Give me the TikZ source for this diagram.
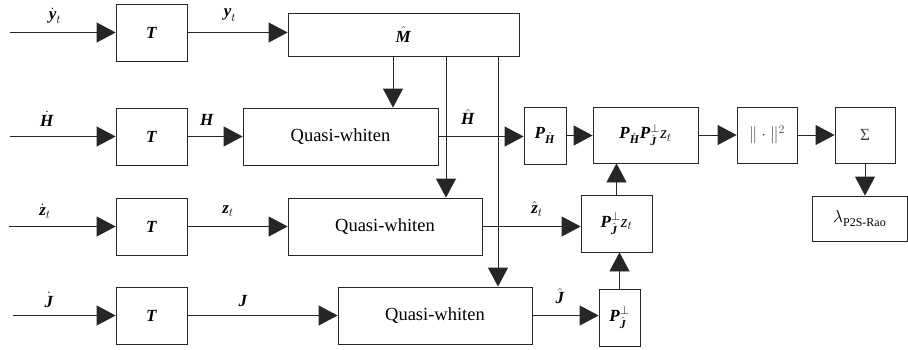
\documentclass[tikz,border=0pt]{standalone}
\usepackage{amsmath}
\usepackage{fontspec}
\setmainfont{Liberation Serif}
\usetikzlibrary{arrows.meta}
\newcommand{\bi}[1]{\textbf{\textit{#1}}}
\begin{document}
\begin{tikzpicture}[x=1pt,y=-1pt,
  box/.style={draw=black!85, line width=0.8pt, inner sep=0pt, font=\fontsize{17}{19}\selectfont},
  qw/.style={box, minimum width=194pt, minimum height=57pt, font=\fontsize{18.5}{20}\selectfont},
  tbox/.style={box, minimum width=71pt, minimum height=57pt},
  lab/.style={font=\fontsize{17}{19}\selectfont, inner sep=0pt},
  conn/.style={draw=black!85, line width=0.8pt},
  arr/.style={conn, -{Triangle[length=19pt,width=20pt]}},
]
\useasboundingbox (0,0) rectangle (908,349);

% boxes
\node[tbox] (T1) at (151.5,32.5) {\bi{T}};
\node[box, minimum width=231pt, minimum height=43pt] (M) at (403.5,34.5) {$\hat{\bi{M}}$};
\node[tbox] (T2) at (151.5,136.5) {\bi{T}};
\node[qw, minimum width=195pt] (QW1) at (340.5,136.5) {Quasi-whiten};
\node[box, minimum width=42pt, minimum height=57pt] (PH) at (545,135.5) {$\bi{P}_{\hat{\bi{H}}}$};
\node[box, minimum width=105pt, minimum height=56pt] (PHPJ) at (645.5,135) {$\bi{P}_{\hat{\bi{H}}}\bi{P}^{\perp}_{\hat{\bi{J}}}\textit{z}_{t}$};
\node[box, minimum width=60pt, minimum height=56pt, text=black!70] (N) at (767,135) {$\|\cdot\|^{2}$};
\node[box, minimum width=60pt, minimum height=56pt, text=black!75] (S) at (865,135) {Σ};
\node[box, minimum width=95pt, minimum height=45pt] (L) at (859.5,218.5) {$\lambda$\raisebox{-4pt}{\fontsize{12}{13}\selectfont P2S-Rao}};
\node[tbox] (T3) at (151.5,226.5) {\bi{T}};
\node[qw] (QW2) at (385,226.5) {Quasi-whiten};
\node[box, minimum width=71pt, minimum height=57pt] (PJz) at (616.5,223.5) {$\bi{P}^{\perp}_{\hat{\bi{J}}}\textit{z}_{t}$};
\node[tbox] (T4) at (151.5,315.5) {\bi{T}};
\node[qw] (QW3) at (435,315.5) {Quasi-whiten};
\node[box, minimum width=41pt, minimum height=57pt] (PJ) at (619.5,317.5) {$\bi{P}^{\perp}_{\hat{\bi{J}}}$};

% inputs
\coordinate (in1) at (10,32.5);
\coordinate (in2) at (10,136.5);
\coordinate (in3) at (9,226.5);
\coordinate (in4) at (13,315.5);
\draw[arr] (in1) -- (T1.west);
\draw[arr] (in2) -- (T2.west);
\draw[arr] (in3) -- (T3.west);
\draw[arr] (in4) -- (T4.west);

% row links
\draw[arr] (T1.east) -- (M.west |- T1.east);
\draw[arr] (T2.east) -- (QW1.west |- T2.east);
\draw[arr] (T3.east) -- (QW2.west |- T3.east);
\draw[arr] (T4.east) -- (QW3.west |- T4.east);
\draw[arr] (QW1.east) -- (PH.west |- QW1.east);
\draw[arr] (QW2.east) -- (PJz.west |- QW2.east);
\draw[arr] (QW3.east) -- (PJ.west |- QW3.east);
\draw[arr] (PH.east) -- (PHPJ.west |- PH.east);
\draw[arr] (PHPJ.east) -- (N.west);
\draw[arr] (N.east) -- (S.west);
\draw[arr] (S.south) -- (L.north -| S.south);
\draw[arr] (PJz.north) -- (PJz.north |- PHPJ.south);
\draw[arr] (PJ.north) -- (PJ.north |- PJz.south);

% from M
\path (M.south) ++(-10.5,0) coordinate (ma);
\path (M.south) ++(42.5,0) coordinate (mb);
\path (M.south) ++(94.5,0) coordinate (mc);
\draw[arr] (ma) -- (ma |- QW1.north);
\draw[arr] (mb) -- (mb |- QW2.north);
\draw[arr] (mc) -- (mc |- QW3.north);

% labels
\node[lab] (l1) at (55,16) {$\dot{\bi{y}}_{t}$};
\node[lab] (l2) at (230,15) {$\bi{y}_{t}$};
\node[lab] (l3) at (47,119) {$\dot{\bi{H}}$};
\node[lab] (l4) at (207,120) {\bi{H}};
\node[lab] (l5) at (468,117) {$\hat{\bi{H}}$};
\node[lab] (l6) at (45,211) {$\dot{\bi{z}}_{t}$};
\node[lab] (l7) at (228,211) {$\bi{z}_{t}$};
\node[lab] (l8) at (537,209) {$\hat{\bi{z}}_{t}$};
\node[lab] (l9) at (49,300) {$\dot{\bi{J}}$};
\node[lab] (l10) at (243,301) {\bi{J}};
\node[lab] (l11) at (560,296) {$\hat{\bi{J}}$};
\end{tikzpicture}
\end{document}
